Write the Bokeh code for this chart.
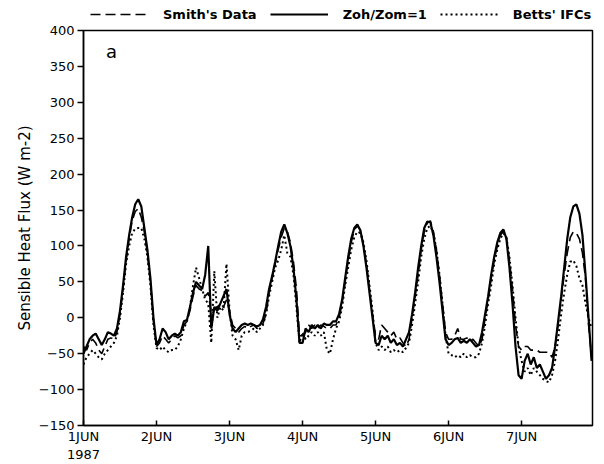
from bokeh.plotting import figure
from bokeh.layouts import column
from bokeh.models import Range1d, Legend, LegendItem, Label, FixedTicker
from bokeh.embed import file_html
from bokeh.resources import INLINE

# hours since 1 JUN 1987 00h
hours = list(range(168))

smith = [
    -40, -45, -35, -30, -35, -45, -50, -40, -30, -28, -30, -20, 5, 40, 80, 110, 135, 148, 152, 140, 120, 90, 50, -5,
    -40, -35, -25, -30, -35, -30, -25, -28, -25, -10, -5, 10, 30, 45, 40, 38, 30, 35, 5, 10, 15, 20, 15, 25,
    10, -10, -15, -20, -15, -12, -15, -12, -10, -15, -12, -8, 5, 35, 55, 75, 95, 112, 125, 120, 105, 78, 40, -25,
    -25, -20, -10, -15, -10, -15, -10, -12, -15, -15, -10, -10, 0, 20, 50, 80, 105, 122, 128, 122, 102, 75, 40, 5,
    -25, -30, -10, -15, -20, -25, -20, -30, -28, -35, -40, -30, 0, 30, 60, 95, 120, 132, 135, 120, 95, 60, 20, -20,
    -30, -30, -25, -15, -30, -30, -28, -32, -30, -35, -40, -30, 0, 25, 55, 80, 100, 115, 120, 112, 80, 40, -10, -40,
    -45, -40, -40, -45, -45, -45, -48, -48, -48, -48, -55, -40, -10, 25, 60, 90, 112, 120, 118, 110, 90, 55, -10, -55,
]

zoh = [
    -50, -40, -30, -25, -22, -30, -38, -30, -20, -22, -25, -15, 10, 45, 85, 115, 140, 158, 165, 155, 125, 95, 55, 0,
    -38, -30, -15, -20, -30, -25, -22, -25, -20, -5, -3, 15, 35, 50, 45, 40, 60, 100, -15, 15, 10, 20, 30, 40,
    5, -15, -20, -15, -10, -8, -10, -8, -10, -12, -10, -2, 15, 40, 58, 78, 100, 120, 130, 118, 100, 70, 25, -35,
    -35, -15, -20, -10, -15, -10, -15, -8, -10, -10, -5, -5, 5, 25, 55, 85, 110, 125, 130, 122, 100, 70, 35, 0,
    -35, -38, -25, -30, -25, -35, -30, -38, -35, -40, -30, -20, 5, 35, 70, 100, 125, 134, 133, 115, 85, 50, 10, -30,
    -38, -35, -30, -28, -35, -32, -35, -30, -35, -40, -38, -20, 5, 30, 60, 85, 105, 118, 123, 110, 70, 20, -40, -80,
    -85, -60, -50, -65, -55, -70, -65, -75, -85, -80, -70, -40, -5, 30, 70, 110, 140, 155, 158, 145, 115, 60, 0, -60,
]

betts = [
    -65, -55, -50, -45, -50, -55, -58, -50, -45, -40, -35, -25, 0, 35, 75, 100, 118, 124, 125, 125, 110, 85, 45, -10,
    -42, -45, -40, -45, -48, -45, -45, -40, -30, -15, -5, 15, 45, 70, 55, 40, 25, 20, -35, 65, 0, 15, 10, 75,
    10, -25, -30, -45, -25, -20, -20, -18, -15, -20, -15, -10, 5, 30, 50, 70, 80, 95, 115, 90, 85, 60, 15, -35,
    -20, -30, -25, -20, -25, -20, -25, -20, -45, -50, -30, -15, -5, 15, 45, 70, 95, 112, 120, 118, 105, 80, 45, 10,
    -35, -45, -40, -45, -40, -48, -45, -48, -45, -48, -42, -35, -10, 20, 50, 85, 110, 125, 128, 118, 95, 60, 20, -25,
    -50, -52, -55, -52, -55, -50, -55, -52, -55, -55, -50, -35, -10, 20, 45, 75, 95, 110, 118, 112, 85, 45, 0, -40,
    -60, -75, -70, -80, -70, -75, -80, -85, -88, -90, -80, -60, -30, 5, 35, 60, 78, 80, 72, 55, 45, 20, 0, -15,
]

series = [smith, zoh, betts]
series_labels = ["Smith's Data", "Zoh/Zom=1", "Betts' IFCs"]
x_ticks = [0, 24, 48, 72, 96, 120, 144]
x_tick_labels = ["1JUN\n1987", "2JUN", "3JUN", "4JUN", "5JUN", "6JUN", "7JUN"]
y_ticks = [-150, -100, -50, 0, 50, 100, 150, 200, 250, 300, 350, 400]
y_tick_labels = ["\u2212150", "\u2212100", "\u221250", "0", "50", "100", "150", "200", "250", "300", "350", "400"]

FONT = "DejaVu Sans"
STYLES = [dict(line_width=1.6, line_dash="10 5"),
          dict(line_width=2.2, line_dash="solid"),
          dict(line_width=2.0, line_dash="2 3")]

# ---- legend strip (top): same series drawn outside its visible range, only the legend shows ----
top = figure(width=604, height=22, output_backend="svg", toolbar_location=None,
             x_range=Range1d(0, 167.3), y_range=Range1d(1000, 1001),
             x_axis_type=None, y_axis_type=None,
             min_border_left=83, min_border_right=12, min_border_top=0, min_border_bottom=0)
top.outline_line_color = None
top.grid.visible = False
top.border_fill_color = "white"
top.background_fill_color = "white"
leg_renderers = [top.line(hours, ys, line_color="black", **st) for ys, st in zip(series, STYLES)]
legend = Legend(items=[LegendItem(label=lab, renderers=[r]) for lab, r in zip(series_labels, leg_renderers)],
                orientation="horizontal", location=(7, 0),
                glyph_width=58, glyph_height=16, label_height=16, label_standoff=15, spacing=13,
                padding=0, margin=0, border_line_alpha=0, background_fill_alpha=0,
                label_text_font=FONT, label_text_font_style="bold",
                label_text_font_size="13px", label_text_color="black")
top.add_layout(legend)

# ---- main plot ----
p = figure(width=604, height=442, output_backend="svg", toolbar_location=None,
           x_range=Range1d(0, 167.3), y_range=Range1d(-150, 400),
           min_border_left=83, min_border_right=12, min_border_top=8, min_border_bottom=36)

p.background_fill_color = "white"
p.border_fill_color = "white"
p.grid.visible = False
p.outline_line_color = "black"
p.outline_line_width = 1.5
p.outline_line_alpha = 1.0

for ys, st in zip(series, STYLES):
    p.line(hours, ys, line_color="black", **st)

p.xaxis.ticker = FixedTicker(ticks=x_ticks)
p.xaxis.major_label_overrides = dict(zip(x_ticks, x_tick_labels))
p.xaxis.major_tick_in = 5
p.xaxis.major_tick_out = 0
p.xaxis.major_label_standoff = 3
p.xaxis.minor_tick_line_color = None

p.yaxis.ticker = FixedTicker(ticks=y_ticks)
p.yaxis.major_label_overrides = dict(zip(y_ticks, y_tick_labels))
p.yaxis.major_tick_in = 0
p.yaxis.major_tick_out = 6
p.yaxis.major_label_standoff = 3
p.yaxis.minor_tick_line_color = None
p.yaxis.axis_label = "Sensible Heat Flux (W m-2)"
p.yaxis.axis_label_standoff = 2
p.yaxis.axis_label_text_font = FONT
p.yaxis.axis_label_text_font_size = "15px"
p.yaxis.axis_label_text_font_style = "normal"
p.yaxis.axis_label_text_color = "black"

for ax in (p.xaxis, p.yaxis):
    ax.axis_line_color = "black"
    ax.axis_line_width = 1.5
    ax.major_tick_line_color = "black"
    ax.major_tick_line_width = 1.5
    ax.major_label_text_font = FONT
    ax.major_label_text_font_size = "13px"
    ax.major_label_text_color = "black"

p.add_layout(Label(x=9.2, y=371, text="a", text_font=FONT, text_font_size="18px",
                   text_align="center", text_baseline="middle", text_color="black"))

layout = column(top, p, spacing=0)
open("out.html", "w").write(file_html(layout, INLINE))
